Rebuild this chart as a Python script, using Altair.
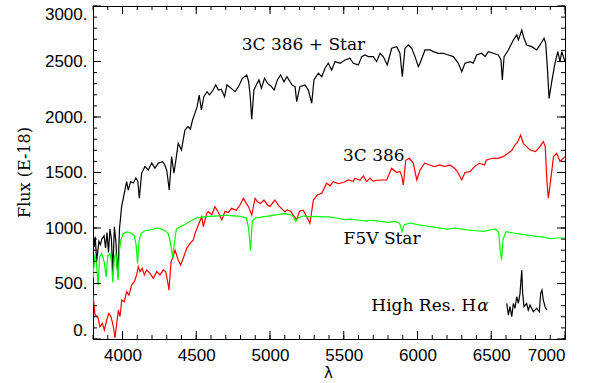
import altair as alt
import pandas as pd

# ---------------- data ----------------
black_wl = [3800,3808,3815,3825,3840,3850,3860,3875,3885,3895,3905,3915,3925,3934,3945,3955,3968,3980,3994,
            4028,4039,4055,4073,4091,4104,4114,4130,4152,4175,4198,4220,4243,4272,4287,4300,4317,4333,4349,
            4378,4400,4423,4445,4460,4475,4491,4506,4520,4535,4551,4573,4590,4614,4632,4650,4670,4692,4708,
            4735,4763,4786,4813,4842,4855,4865,4876,4891,4908,4925,4942,4963,4985,5006,5028,5050,5072,5095,
            5115,5149,5170,5181,5203,5237,5260,5283,5298,5328,5351,5373,5395,5418,5441,5475,5509,5542,5565,
            5599,5622,5644,5667,5700,5723,5746,5768,5795,5825,5859,5881,5897,5915,5938,5961,5983,6006,6017,
            6051,6085,6107,6141,6175,6209,6243,6277,6300,6322,6356,6378,6401,6435,6458,6480,6514,6548,6566,
            6575,6587,6616,6650,6673,6684,6707,6722,6740,6774,6808,6831,6858,6869,6880,6892,6910,6932,6951,
            6966,6978,7000]
black_flux = [960,830,920,700,880,850,900,930,820,960,780,990,900,600,1010,880,560,1000,1192,
              1418,1342,1418,1405,1450,1420,1268,1495,1553,1523,1585,1540,1585,1598,1568,1520,1342,1643,1493,
              1763,1703,1883,1913,1890,1973,2033,2093,2198,2063,2183,2228,2200,2243,2289,2243,2250,2183,2289,
              2260,2228,2273,2349,2379,2320,2200,1979,2243,2290,2334,2260,2349,2300,2280,2243,2334,2379,2318,
              2364,2289,2273,2138,2273,2289,2243,2124,2334,2394,2363,2439,2484,2424,2499,2484,2514,2529,2484,
              2469,2544,2559,2544,2544,2499,2574,2544,2469,2619,2634,2574,2364,2619,2649,2619,2544,2454,2484,
              2604,2604,2589,2574,2574,2559,2544,2484,2409,2484,2499,2484,2559,2574,2544,2589,2574,2559,2514,
              2334,2544,2604,2694,2739,2694,2784,2709,2649,2634,2604,2649,2709,2664,2454,2168,2319,2484,2589,
              2499,2589,2499]

red_wl = [3800,3814,3832,3847,3863,3877,3893,3908,3922,3938,3949,3961,3972,3983,3995,4012,4028,4044,4062,
          4080,4096,4107,4119,4134,4148,4164,4186,4209,4232,4254,4277,4293,4306,4315,4329,4340,4356,4378,
          4394,4412,4435,4458,4480,4492,4514,4537,4548,4571,4582,4605,4627,4650,4673,4695,4718,4740,4770,
          4797,4819,4840,4855,4876,4899,4914,4935,4959,4982,5000,5033,5060,5100,5116,5140,5181,5200,5225,
          5245,5271,5294,5321,5351,5384,5407,5429,5463,5497,5531,5565,5575,5610,5633,5655,5678,5700,5723,
          5791,5825,5859,5881,5893,5904,5920,5945,5972,5995,6017,6048,6082,6116,6150,6184,6218,6252,6274,
          6300,6322,6356,6386,6420,6454,6467,6510,6545,6580,6614,6640,6661,6680,6699,6717,6750,6764,6800,
          6830,6853,6866,6877,6887,6900,6922,6944,6966,7000]
red_flux = [396,216,201,111,141,81,171,231,201,111,9,141,261,201,351,336,426,396,487,
            517,577,651,607,637,577,622,592,547,607,577,622,607,517,441,697,727,802,712,
            667,727,817,862,892,952,1027,1102,1012,1132,1147,1120,1192,1140,1072,1150,1140,1177,1160,
            1207,1268,1220,1190,1117,1268,1237,1220,1252,1210,1195,1252,1200,1147,1162,1150,1072,1150,1160,
            1110,1042,1252,1297,1312,1403,1380,1418,1400,1410,1433,1420,1448,1430,1470,1418,1450,1420,1430,
            1433,1538,1500,1510,1470,1388,1610,1628,1583,1433,1520,1583,1568,1553,1568,1553,1568,1538,1500,
            1433,1500,1508,1553,1583,1568,1613,1628,1628,1643,1673,1700,1748,1778,1838,1763,1720,1703,1688,
            1733,1778,1733,1430,1268,1400,1643,1673,1600,1643]

green_wl = [3800,3812,3822,3835,3845,3860,3875,3889,3900,3915,3925,3934,3945,3955,3962,3970,3980,3990,4005,
            4030,4060,4080,4092,4102,4112,4125,4150,4180,4210,4240,4265,4290,4310,4325,4340,4350,4365,4390,
            4420,4460,4500,4548,4600,4650,4700,4750,4800,4840,4855,4868,4880,4900,4950,5000,5050,5100,5150,
            5175,5190,5230,5270,5300,5350,5400,5450,5500,5550,5600,5650,5700,5750,5800,5850,5880,5895,5910,
            5950,6000,6050,6100,6150,6200,6250,6300,6350,6400,6450,6500,6530,6550,6563,6570,6580,6600,6650,
            6700,6750,6800,6850,6900,6950,7000]
green_flux = [550,760,700,490,740,770,700,560,750,770,700,510,740,770,680,530,800,900,950,
              965,955,930,850,680,880,950,975,980,990,1000,990,975,950,870,730,850,990,1010,
              1030,1060,1090,1100,1105,1110,1115,1110,1105,1090,1000,800,1060,1090,1100,1110,1120,1130,1115,
              1060,1090,1110,1100,1105,1100,1100,1090,1075,1080,1070,1065,1070,1060,1050,1060,1040,967,1030,
              1045,1030,1020,1010,1000,990,1000,990,980,975,970,985,990,960,770,712,900,967,955,
              945,935,925,920,905,910,910]

ha_wl = [6605,6616,6627,6639,6650,6661,6673,6684,6695,6707,6713,6722,6740,6751,6763,6785,6808,6826,6835,
         6844,6853,6865,6877]
ha_flux = [321,216,291,201,321,276,381,321,411,622,411,291,321,261,306,246,276,246,411,441,351,291,261]

x_ticks_major = [4000, 4500, 5000, 5500, 6000, 6500, 7000]
y_ticks_major = [0, 500, 1000, 1500, 2000, 2500, 3000]
x_ticks_minor = list(range(3800, 7001, 100))
y_ticks_minor = list(range(0, 3001, 100))

labels_text = ["3C 386 + Star", "3C 386", "F5V Star"]
labels_x = [5227, 5704, 5760]
labels_y = [2650, 1649, 901]

W, H = 472, 333
xs = alt.Scale(domain=[3800, 7000], nice=False, zero=False)
ys = alt.Scale(domain=[0, 3000], nice=False, zero=False)

SERIF = "DejaVu Serif"
SANS = "Liberation Sans"

x_axis = alt.Axis(values=x_ticks_major, format="d", grid=False, ticks=False, tickSize=0, domain=False,
                  labelFont=SANS, labelFontSize=17, labelColor="black", labelPadding=8,
                  title="λ", titleFont="DejaVu Sans", titleFontSize=15, titleFontWeight="normal",
                  titleColor="black", titleX=W / 2 - 1, titleY=33, titleAlign="center", titleBaseline="middle")
y_axis = alt.Axis(values=y_ticks_major, labelExpr="datum.value + '.'", grid=False, ticks=False, tickSize=0,
                  domain=False, labelFont=SANS, labelFontSize=17, labelColor="black", labelPadding=6,
                  labelFlush=True,
                  title="Flux (E-18)", titleFont=SERIF, titleFontSize=16, titleFontWeight="normal",
                  titleColor="black", titleX=-69, titleY=166, titleAngle=270, titleAlign="center",
                  titleBaseline="middle")


def line(wl, fl, color):
    df = pd.DataFrame({"wl": wl, "flux": fl})
    return alt.Chart(df).mark_line(color=color, strokeWidth=1.2, clip=True).encode(
        x=alt.X("wl:Q", scale=xs, axis=x_axis),
        y=alt.Y("flux:Q", scale=ys, axis=y_axis),
    )


black = line(black_wl, black_flux, "#000000")
red = line(red_wl, red_flux, "#ff0000")
green = line(green_wl, green_flux, "#00ff00")
halpha = line(ha_wl, ha_flux, "#000000")


def xticks(vals, length):
    df = pd.DataFrame({"v": vals})
    base = alt.Chart(df).mark_rule(color="black", strokeWidth=1)
    bottom = base.encode(x=alt.X("v:Q", scale=xs), y=alt.value(H), y2=alt.value(H - length))
    top = base.encode(x=alt.X("v:Q", scale=xs), y=alt.value(0), y2=alt.value(length))
    return [bottom, top]


def yticks(vals, length):
    df = pd.DataFrame({"v": vals})
    base = alt.Chart(df).mark_rule(color="black", strokeWidth=1)
    left = base.encode(y=alt.Y("v:Q", scale=ys), x=alt.value(0), x2=alt.value(length))
    right = base.encode(y=alt.Y("v:Q", scale=ys), x=alt.value(W), x2=alt.value(W - length))
    return [left, right]


ticks = xticks(x_ticks_minor, 4) + xticks(x_ticks_major, 8) + yticks(y_ticks_minor, 4) + yticks(y_ticks_major, 8)

lab_df = pd.DataFrame({"t": labels_text, "x": labels_x, "y": labels_y})
labels = alt.Chart(lab_df).mark_text(font=SERIF, fontSize=17, color="black", align="center",
                                     baseline="middle").encode(
    x=alt.X("x:Q", scale=xs), y=alt.Y("y:Q", scale=ys), text="t:N")

ha_df = pd.DataFrame({"t": ["High Res. H"], "x": [6397], "y": [297]})
ha_lab = alt.Chart(ha_df).mark_text(font=SERIF, fontSize=17, color="black", align="right",
                                    baseline="middle").encode(
    x=alt.X("x:Q", scale=xs), y=alt.Y("y:Q", scale=ys), text="t:N")
alpha_df = pd.DataFrame({"t": ["α"], "x": [6405], "y": [297]})
alpha_lab = alt.Chart(alpha_df).mark_text(font=SERIF, fontSize=17, fontStyle="italic", color="black",
                                          align="left", baseline="middle").encode(
    x=alt.X("x:Q", scale=xs), y=alt.Y("y:Q", scale=ys), text="t:N")

chart = alt.layer(black, red, green, halpha, *ticks, labels, ha_lab, alpha_lab).properties(
    width=W, height=H,
    padding={"left": 93, "top": 6, "right": 31, "bottom": 44},
    autosize=alt.AutoSizeParams(type="none"),
    background="white",
).configure_view(stroke="black", strokeWidth=1)

chart.save("out.html", embed_options={"renderer": "svg", "actions": False})
